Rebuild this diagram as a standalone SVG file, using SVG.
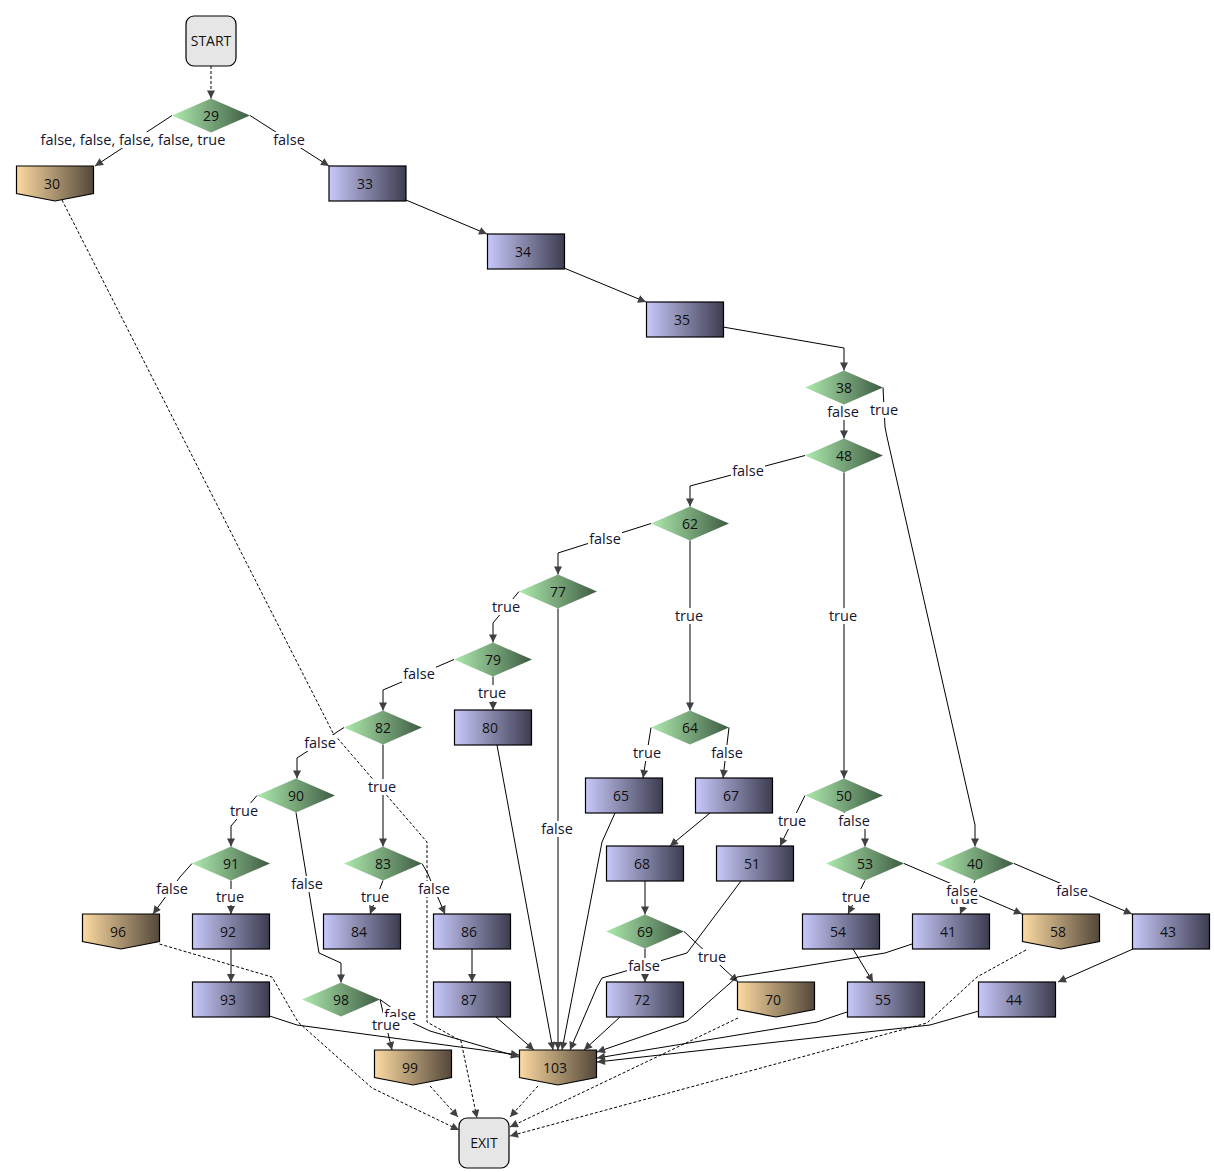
<svg xmlns="http://www.w3.org/2000/svg" width="1214" height="1172" viewBox="0 0 1214 1172">
<defs>
<linearGradient id="gR" x1="0" y1="0" x2="1" y2="0"><stop offset="0" stop-color="#c8c8fa"/><stop offset="1" stop-color="#3c3c50"/></linearGradient>
<linearGradient id="gD" x1="0" y1="0" x2="1" y2="0"><stop offset="0" stop-color="#aeeaae"/><stop offset="1" stop-color="#3e5c42"/></linearGradient>
<linearGradient id="gP" x1="0" y1="0" x2="1" y2="0"><stop offset="0" stop-color="#fcdaa2"/><stop offset="1" stop-color="#54483a"/></linearGradient>
<marker id="ar" viewBox="0 0 10 10" refX="10" refY="5" markerWidth="9" markerHeight="8" markerUnits="userSpaceOnUse" orient="auto"><path d="M0,0 L10,5 L0,10 z" fill="#404040"/></marker>
<style>
.r{fill:url(#gR);stroke:#000;stroke-width:1.2}
.d{fill:url(#gD);stroke:none}
.p{fill:url(#gP);stroke:#000;stroke-width:1.2}
.t{fill:#e6e6e6;stroke:#000;stroke-width:1.2}
.nt{font-family:"Open Sans","Noto Sans","DejaVu Sans",sans-serif;font-size:14px;fill:#111;text-anchor:middle}
.e{fill:none;stroke:#000;stroke-width:1;marker-end:url(#ar)}
.x{fill:none;stroke:#000;stroke-width:1;stroke-dasharray:3,2;marker-end:url(#ar)}
.bg{fill:#fff}
.lt{font-family:"Open Sans","Noto Sans","DejaVu Sans",sans-serif;font-size:14.5px;fill:#141430;text-anchor:middle}
</style>
</defs>
<g id="connectors">
<path class="x" d="M211,66 V98.5"/>
<path class="e" d="M172,115.5 L95,166"/>
<path class="e" d="M250,115.5 L329,166"/>
<path class="e" d="M406,200 L487,234"/>
<path class="e" d="M564,268 L646,302"/>
<path class="e" d="M723,327 L844,348 L844,370.5"/>
<path class="e" d="M844,404.5 V438.5"/>
<path class="e" d="M883,387.5 L885,427 L887,437 L975,825 L975,846.5"/>
<path class="e" d="M805,455.5 L690,486 L690,506.5"/>
<path class="e" d="M844,472.5 V778.5"/>
<path class="e" d="M651,523.5 L558,553 L558,574.5"/>
<path class="e" d="M690,540.5 V710.5"/>
<path class="e" d="M519,591.5 L493,623 L493,642.5"/>
<path class="e" d="M558,608.5 V1050"/>
<path class="e" d="M454,659.5 L383,690 L383,710.5"/>
<path class="e" d="M493,676.5 V710"/>
<path class="e" d="M344,727.5 L297,758 L297,778.5"/>
<path class="e" d="M383,744.5 V846.5"/>
<path class="e" d="M257,795.5 L231,826 L231,846.5"/>
<path class="e" d="M296,812.5 L319,953 L341,963 L341,982.5"/>
<path class="e" d="M192,863.5 L180,877 L153,914"/>
<path class="e" d="M231,880.5 V914"/>
<path class="e" d="M231,949 V982"/>
<path class="e" d="M269.5,1016 L297,1025 L519,1055"/>
<path class="x" d="M159.5,944 L272,977 L298,1022 L372,1088 L459,1130"/>
<path class="x" d="M62,200 L333,733 L427,842 L427,1022 L461,1041 L477,1118"/>
<path class="e" d="M383,880.5 L370,914"/>
<path class="e" d="M422,863.5 L427,872 L445,914"/>
<path class="e" d="M472,949 V982"/>
<path class="e" d="M496,1017 L534,1050"/>
<path class="e" d="M497,745 L553,1050"/>
<path class="e" d="M615,813 L602,842 L562,1050"/>
<path class="e" d="M741,881 L687,953 L602,978 L597,987 L570,1050"/>
<path class="e" d="M620,1017 L584,1050"/>
<path class="e" d="M645,948.5 V982"/>
<path class="e" d="M684,931.5 L738,982"/>
<path class="e" d="M651,727.5 L643,778"/>
<path class="e" d="M729,727.5 L723,778"/>
<path class="e" d="M710,813 L670,846"/>
<path class="e" d="M645,881 V914.5"/>
<path class="e" d="M805,795.5 L780,846"/>
<path class="e" d="M844,812.5 L865,828 L865,846.5"/>
<path class="e" d="M865,880.5 L848,914"/>
<path class="e" d="M904,863.5 L1022,914"/>
<path class="e" d="M975,880.5 L960,914"/>
<path class="e" d="M1014,863.5 L1132,914"/>
<path class="e" d="M1133,949 L1058,982"/>
<path class="e" d="M853,949 L873,982"/>
<path class="e" d="M912,944 L885,953 L737,977 L687,1021 L597,1052"/>
<path class="e" d="M847,1012 L817,1022 L597,1058"/>
<path class="e" d="M979,1011 L930,1025 L597,1062"/>
<path class="x" d="M538,1086 L510,1117"/>
<path class="x" d="M430,1086 L458,1117"/>
<path class="x" d="M738,1018 L686,1043 L510,1127"/>
<path class="x" d="M1026,950 L977,977 L927,1023 L510,1136"/>
<path class="e" d="M380,999.5 L392,1050"/>
<path class="e" d="M380,999.5 L413,1023 L430,1031 L519,1057"/>
</g>
<g id="labels">
<rect class="bg" x="37" y="132" width="192" height="16"/><text class="lt" x="133" y="145">false, false, false, false, true</text>
<rect class="bg" x="272" y="132" width="34" height="16"/><text class="lt" x="289" y="145">false</text>
<rect class="bg" x="826" y="404" width="34" height="16"/><text class="lt" x="843" y="417">false</text>
<rect class="bg" x="869" y="402" width="30" height="16"/><text class="lt" x="884" y="415">true</text>
<rect class="bg" x="731" y="463" width="34" height="16"/><text class="lt" x="748" y="476">false</text>
<rect class="bg" x="828" y="608" width="30" height="16"/><text class="lt" x="843" y="621">true</text>
<rect class="bg" x="588" y="531" width="34" height="16"/><text class="lt" x="605" y="544">false</text>
<rect class="bg" x="674" y="608" width="30" height="16"/><text class="lt" x="689" y="621">true</text>
<rect class="bg" x="491" y="599" width="30" height="16"/><text class="lt" x="506" y="612">true</text>
<rect class="bg" x="540" y="821" width="34" height="16"/><text class="lt" x="557" y="834">false</text>
<rect class="bg" x="402" y="666" width="34" height="16"/><text class="lt" x="419" y="679">false</text>
<rect class="bg" x="477" y="685" width="30" height="16"/><text class="lt" x="492" y="698">true</text>
<rect class="bg" x="303" y="735" width="34" height="16"/><text class="lt" x="320" y="748">false</text>
<rect class="bg" x="367" y="779" width="30" height="16"/><text class="lt" x="382" y="792">true</text>
<rect class="bg" x="229" y="803" width="30" height="16"/><text class="lt" x="244" y="816">true</text>
<rect class="bg" x="290" y="876" width="34" height="16"/><text class="lt" x="307" y="889">false</text>
<rect class="bg" x="155" y="881" width="34" height="16"/><text class="lt" x="172" y="894">false</text>
<rect class="bg" x="215" y="889" width="30" height="16"/><text class="lt" x="230" y="902">true</text>
<rect class="bg" x="360" y="889" width="30" height="16"/><text class="lt" x="375" y="902">true</text>
<rect class="bg" x="417" y="881" width="34" height="16"/><text class="lt" x="434" y="894">false</text>
<rect class="bg" x="627" y="958" width="34" height="16"/><text class="lt" x="644" y="971">false</text>
<rect class="bg" x="697" y="949" width="30" height="16"/><text class="lt" x="712" y="962">true</text>
<rect class="bg" x="632" y="745" width="30" height="16"/><text class="lt" x="647" y="758">true</text>
<rect class="bg" x="710" y="745" width="34" height="16"/><text class="lt" x="727" y="758">false</text>
<rect class="bg" x="777" y="813" width="30" height="16"/><text class="lt" x="792" y="826">true</text>
<rect class="bg" x="837" y="813" width="34" height="16"/><text class="lt" x="854" y="826">false</text>
<rect class="bg" x="841" y="889" width="30" height="16"/><text class="lt" x="856" y="902">true</text>
<rect class="bg" x="949" y="891" width="30" height="16"/><text class="lt" x="964" y="904">true</text>
<rect class="bg" x="945" y="883" width="34" height="16"/><text class="lt" x="962" y="896">false</text>
<rect class="bg" x="1055" y="883" width="34" height="16"/><text class="lt" x="1072" y="896">false</text>
<rect class="bg" x="383" y="1007" width="34" height="16"/><text class="lt" x="400" y="1020">false</text>
<rect class="bg" x="371" y="1017" width="30" height="16"/><text class="lt" x="386" y="1030">true</text>
</g>
<g id="n-start"><rect class="t" x="186" y="16" width="50" height="50" rx="8"/><text class="nt" x="211" y="46">START</text></g>
<g id="n-exit"><rect class="t" x="459" y="1118" width="50" height="50" rx="8"/><text class="nt" x="484" y="1148">EXIT</text></g>
<g id="n29"><polygon class="d" points="172,115.5 211,98.5 250,115.5 211,132.5"/><text class="nt" x="211" y="120.5">29</text></g>
<g id="n38"><polygon class="d" points="805,387.5 844,370.5 883,387.5 844,404.5"/><text class="nt" x="844" y="392.5">38</text></g>
<g id="n48"><polygon class="d" points="805,455.5 844,438.5 883,455.5 844,472.5"/><text class="nt" x="844" y="460.5">48</text></g>
<g id="n62"><polygon class="d" points="651,523.5 690,506.5 729,523.5 690,540.5"/><text class="nt" x="690" y="528.5">62</text></g>
<g id="n77"><polygon class="d" points="519,591.5 558,574.5 597,591.5 558,608.5"/><text class="nt" x="558" y="596.5">77</text></g>
<g id="n79"><polygon class="d" points="454,659.5 493,642.5 532,659.5 493,676.5"/><text class="nt" x="493" y="664.5">79</text></g>
<g id="n82"><polygon class="d" points="344,727.5 383,710.5 422,727.5 383,744.5"/><text class="nt" x="383" y="732.5">82</text></g>
<g id="n64"><polygon class="d" points="651,727.5 690,710.5 729,727.5 690,744.5"/><text class="nt" x="690" y="732.5">64</text></g>
<g id="n90"><polygon class="d" points="257,795.5 296,778.5 335,795.5 296,812.5"/><text class="nt" x="296" y="800.5">90</text></g>
<g id="n50"><polygon class="d" points="805,795.5 844,778.5 883,795.5 844,812.5"/><text class="nt" x="844" y="800.5">50</text></g>
<g id="n91"><polygon class="d" points="192,863.5 231,846.5 270,863.5 231,880.5"/><text class="nt" x="231" y="868.5">91</text></g>
<g id="n83"><polygon class="d" points="344,863.5 383,846.5 422,863.5 383,880.5"/><text class="nt" x="383" y="868.5">83</text></g>
<g id="n53"><polygon class="d" points="826,863.5 865,846.5 904,863.5 865,880.5"/><text class="nt" x="865" y="868.5">53</text></g>
<g id="n40"><polygon class="d" points="936,863.5 975,846.5 1014,863.5 975,880.5"/><text class="nt" x="975" y="868.5">40</text></g>
<g id="n69"><polygon class="d" points="606,931.5 645,914.5 684,931.5 645,948.5"/><text class="nt" x="645" y="936.5">69</text></g>
<g id="n98"><polygon class="d" points="302,999.5 341,982.5 380,999.5 341,1016.5"/><text class="nt" x="341" y="1004.5">98</text></g>
<g id="n33"><rect class="r" x="329" y="166" width="77" height="35"/><text class="nt" x="365" y="188.5">33</text></g>
<g id="n34"><rect class="r" x="487.5" y="234" width="77" height="35"/><text class="nt" x="523" y="256.5">34</text></g>
<g id="n35"><rect class="r" x="646.5" y="302" width="77" height="35"/><text class="nt" x="682" y="324.5">35</text></g>
<g id="n80"><rect class="r" x="454.5" y="710" width="77" height="35"/><text class="nt" x="490" y="732.5">80</text></g>
<g id="n65"><rect class="r" x="585.5" y="778" width="77" height="35"/><text class="nt" x="621" y="800.5">65</text></g>
<g id="n67"><rect class="r" x="695.5" y="778" width="77" height="35"/><text class="nt" x="731" y="800.5">67</text></g>
<g id="n68"><rect class="r" x="606.5" y="846" width="77" height="35"/><text class="nt" x="642" y="868.5">68</text></g>
<g id="n51"><rect class="r" x="716.5" y="846" width="77" height="35"/><text class="nt" x="752" y="868.5">51</text></g>
<g id="n92"><rect class="r" x="192.5" y="914" width="77" height="35"/><text class="nt" x="228" y="936.5">92</text></g>
<g id="n84"><rect class="r" x="323.5" y="914" width="77" height="35"/><text class="nt" x="359" y="936.5">84</text></g>
<g id="n86"><rect class="r" x="433.5" y="914" width="77" height="35"/><text class="nt" x="469" y="936.5">86</text></g>
<g id="n54"><rect class="r" x="802.5" y="914" width="77" height="35"/><text class="nt" x="838" y="936.5">54</text></g>
<g id="n41"><rect class="r" x="912.5" y="914" width="77" height="35"/><text class="nt" x="948" y="936.5">41</text></g>
<g id="n43"><rect class="r" x="1132.5" y="914" width="77" height="35"/><text class="nt" x="1168" y="936.5">43</text></g>
<g id="n93"><rect class="r" x="192.5" y="982" width="77" height="35"/><text class="nt" x="228" y="1004.5">93</text></g>
<g id="n87"><rect class="r" x="433.5" y="982" width="77" height="35"/><text class="nt" x="469" y="1004.5">87</text></g>
<g id="n72"><rect class="r" x="606.5" y="982" width="77" height="35"/><text class="nt" x="642" y="1004.5">72</text></g>
<g id="n55"><rect class="r" x="847.5" y="982" width="77" height="35"/><text class="nt" x="883" y="1004.5">55</text></g>
<g id="n44"><rect class="r" x="978.5" y="982" width="77" height="35"/><text class="nt" x="1014" y="1004.5">44</text></g>
<g id="n30"><polygon class="p" points="16.5,166 93.5,166 93.5,193.5 55,201 16.5,193.5"/><text class="nt" x="52" y="188.5">30</text></g>
<g id="n96"><polygon class="p" points="82.5,914 159.5,914 159.5,941.5 121,949 82.5,941.5"/><text class="nt" x="118" y="936.5">96</text></g>
<g id="n58"><polygon class="p" points="1022.5,914 1099.5,914 1099.5,941.5 1061,949 1022.5,941.5"/><text class="nt" x="1058" y="936.5">58</text></g>
<g id="n70"><polygon class="p" points="737.5,982 814.5,982 814.5,1009.5 776,1017 737.5,1009.5"/><text class="nt" x="773" y="1004.5">70</text></g>
<g id="n99"><polygon class="p" points="374.5,1050 451.5,1050 451.5,1077.5 413,1085 374.5,1077.5"/><text class="nt" x="410" y="1072.5">99</text></g>
<g id="n103"><polygon class="p" points="519.5,1050 596.5,1050 596.5,1077.5 558,1085 519.5,1077.5"/><text class="nt" x="555" y="1072.5">103</text></g>
</svg>
